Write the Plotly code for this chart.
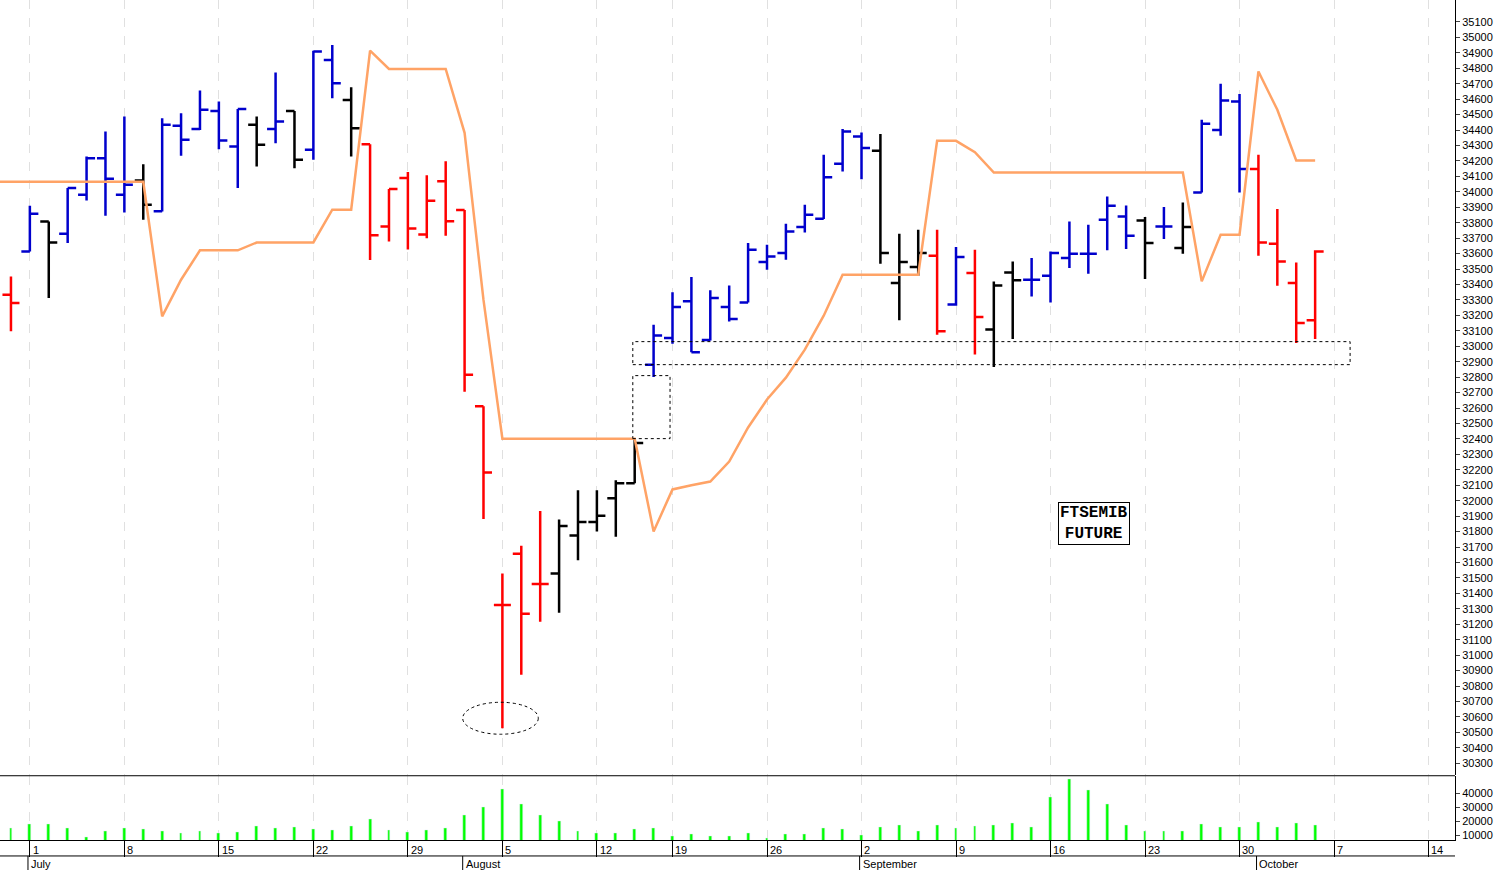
import plotly.graph_objects as go

# trading day index 0 = 28 Jun 2019 ... 69 = 4 Oct 2019 (15 Aug closed)
opens = [33334, 33614, 33808, 33729, 33981, 34218, 33981, 34073, 33875, 34427,
         34406, 34524, 34293, 34434, 34406, 34524, 34272, 34854, 34595, 34308,
         33775, 34090, 33724, 34069, 33883, 32611, 31325, 31657, 31460, 31529,
         31775, 31862, 32016, 32113, 32881, 33054, 33291, 33040, 33254, 33284,
         33545, 33604, 33772, 33826, 34181, 34358, 34266, 33410, 33513, 33586,
         33270, 33474, 33108, 33478, 33430, 33457, 33571, 33599, 33819, 33841,
         33815, 33776, 33636, 33996, 34401, 34585, 34147, 33664, 33410, 33168]
highs = [33452, 33910, 33808, 34024, 34229, 34390, 34488, 34179, 34477, 34509,
         34656, 34585, 34537, 34488, 34772, 34524, 34914, 34951, 34677, 34308,
         34018, 34128, 34108, 34198, 33883, 32611, 31529, 31708, 31933, 31878,
         32067, 32067, 32133, 32399, 33140, 33349, 33448, 33362, 33394, 33668,
         33657, 33793, 33916, 34240, 34406, 34384, 34375, 33729, 33754, 33754,
         33642, 33625, 33420, 33549, 33571, 33614, 33808, 33787, 33970, 33912,
         33837, 33901, 33931, 34466, 34699, 34634, 34240, 33888, 33543, 33621]
lows = [33097, 33614, 33312, 33668, 33944, 33845, 33866, 33819, 33873, 34233,
        34401, 34276, 34024, 34164, 34315, 34153, 34207, 34606, 34229, 33558,
        33678, 33627, 33699, 33716, 32706, 31882, 30526, 30873, 31217, 31274,
        31614, 31801, 31767, 32113, 32801, 33017, 32961, 33038, 33161, 33284,
        33496, 33560, 33737, 33824, 34132, 34082, 33534, 33168, 33457, 33075,
        33263, 32946, 32866, 33047, 33323, 33284, 33506, 33470, 33621, 33630,
        33435, 33694, 33599, 33996, 34363, 33996, 33586, 33392, 33021, 33047]
closes = [33280, 33858, 33672, 34024, 34218, 34084, 34046, 33916, 34434, 34337,
          34531, 34332, 34537, 34304, 34455, 34207, 34908, 34703, 34412, 33719,
          34018, 33763, 33942, 33809, 32816, 32182, 31325, 31268, 31460, 31836,
          31862, 31903, 32113, 32374, 33069, 33254, 32961, 33312, 33177, 33625,
          33582, 33743, 33851, 34095, 34390, 34283, 33604, 33545, 33604, 33097,
          33578, 33190, 33394, 33427, 33430, 33604, 33599, 33599, 33910, 33716,
          33668, 33776, 33772, 34440, 34591, 34147, 33672, 33549, 33151, 33614]
# bar colour code: r = red, b = blue, k = black
bar_colors = "rbkbbbbkbbbbbkbkbbkrrrrrrrrrrkkkkkbbbbbbbbbbbbkkkrbrkkbbbbbbkbkbbbrrrr"
stop_line = [34065, 34065, 34065, 34065, 34065, 34065, 34065, 34065, 33194, 33431,
             33621, 33621, 33621, 33672, 33672, 33672, 33672, 33884, 33884, 34914,
             34796, 34796, 34796, 34796, 34382, 33300, 32402, 32402, 32402, 32402,
             32402, 32402, 32402, 32402, 31801, 32073, 32100, 32124, 32254, 32474,
             32655, 32797, 32978, 33198, 33463, 33463, 33463, 33463, 33463, 34330,
             34330, 34257, 34125, 34125, 34125, 34125, 34125, 34125, 34125, 34125,
             34125, 34125, 34125, 33420, 33722, 33722, 34779, 34531, 34203, 34203]
volume = [14800, 17900, 17900, 14800, 8800, 13100, 14600, 14100, 12400, 11200,
          12400, 11200, 12200, 16500, 14800, 15500, 14100, 13600, 16500, 21500,
          13600, 11700, 13600, 14800, 24400, 29900, 43100, 32100, 24400, 19600,
          12400, 11200, 11200, 14100, 14800, 9500, 10500, 9300, 9300, 11200,
          8000, 10700, 10700, 14800, 14100, 10000, 15500, 17400, 12900, 17200,
          14800, 16500, 17200, 18400, 15500, 36900, 49600, 42400, 32100, 17200,
          12400, 12400, 12400, 17900, 15500, 15500, 19100, 15500, 18400, 17200]
day_ticks = [1, 6, 11, 16, 21, 26, 31, 35, 40, 45, 50, 55, 60, 65, 70, 75]
day_labels = ["1", "8", "15", "22", "29", "5", "12", "19", "26", "2", "9", "16", "23", "30", "7", "14"]
month_pos = [1, 24, 45, 66]
month_labels = ["July", "August", "September", "October"]

idx = list(range(len(opens)))
color_map = {"r": "#ff0000", "b": "#0000cc", "k": "#000000"}

fig = go.Figure()
for code, col in color_map.items():
    sel = [i for i in idx if bar_colors[i] == code]
    fig.add_trace(go.Ohlc(
        x=sel, open=[opens[i] for i in sel], high=[highs[i] for i in sel],
        low=[lows[i] for i in sel], close=[closes[i] for i in sel],
        increasing=dict(line=dict(color=col, width=2.5)),
        decreasing=dict(line=dict(color=col, width=2.5)),
        tickwidth=0.45, xaxis="x", yaxis="y", hoverinfo="skip"))

# the stop line runs in from the left edge at its first value
fig.add_trace(go.Scatter(x=[-0.6] + idx, y=stop_line[:1] + stop_line, mode="lines",
                         line=dict(color="#ffa366", width=2.5), xaxis="x", yaxis="y"))
fig.add_trace(go.Bar(x=idx, y=volume, marker_color="#00ff00", width=0.15,
                     xaxis="x2", yaxis="y2"))

xr = [-0.58, 76.4]
xcommon = dict(range=xr, tickvals=day_ticks, showgrid=True, gridcolor="#e0e0e0",
               griddash="dash", gridwidth=1, zeroline=False, fixedrange=True)
fig.update_layout(
    width=1503, height=870, margin=dict(l=0, r=48, t=0, b=30, autoexpand=False),
    plot_bgcolor="white", paper_bgcolor="white", showlegend=False,
    font=dict(family="Arial", size=11, color="black"),
    xaxis=dict(**xcommon, anchor="y", showticklabels=False, ticks="",
               rangeslider=dict(visible=False)),
    xaxis2=dict(**xcommon, anchor="y2", showticklabels=False, ticks="outside",
                ticklen=16, tickcolor="black", showline=True, linecolor="black"),
    yaxis=dict(domain=[0.077, 1], range=[30222, 35242], side="right",
               tickvals=list(range(30300, 35101, 100)), tickformat="d",
               ticks="outside", ticklen=4,
               showgrid=False, zeroline=False, showline=True, linecolor="black",
               tickfont=dict(size=11)),
    yaxis2=dict(domain=[0, 0.076], range=[6430, 52100], side="right",
                tickvals=[10000, 20000, 30000, 40000], tickformat="d",
                ticks="outside", ticklen=4,
                showgrid=False, zeroline=False, showline=True, linecolor="black",
                tickfont=dict(size=11)),
    bargap=0,
)

shapes = [
    dict(type="line", xref="paper", yref="paper", x0=0, x1=1, y0=0.0765, y1=0.0765,
         line=dict(color="black", width=1)),
    dict(type="line", xref="paper", yref="paper", x0=0, x1=1, y0=-0.019, y1=-0.019,
         line=dict(color="black", width=1)),
    dict(type="rect", xref="x", yref="y", x0=32.9, x1=70.85, y0=32881, y1=33030,
         line=dict(color="black", width=1, dash="dot")),
    dict(type="rect", xref="x", yref="y", x0=32.9, x1=34.87, y0=32402, y1=32810,
         line=dict(color="black", width=1, dash="dot")),
    dict(type="circle", xref="x", yref="y", x0=23.9, x1=27.9, y0=30488, y1=30695,
         line=dict(color="black", width=1, dash="dot")),
]
for m in month_pos:
    shapes.append(dict(type="line", xref="x2", yref="paper", x0=m - 0.1, x1=m - 0.1,
                       y0=-0.019, y1=-0.036, line=dict(color="black", width=1)))
fig.update_layout(shapes=shapes)

ann = []
for t, lab in zip(day_ticks, day_labels):
    ann.append(dict(x=t + 0.05, y=-0.002, xref="x2", yref="paper", text=lab,
                    showarrow=False, xanchor="left", yanchor="top", font=dict(size=11)))
for m, lab in zip(month_pos, month_labels):
    ann.append(dict(x=m - 0.05, y=-0.0195, xref="x2", yref="paper", text=lab,
                    showarrow=False, xanchor="left", yanchor="top", font=dict(size=11)))
ann.append(dict(x=57.3, y=31853, xref="x", yref="y", text="<b>FTSEMIB<br>FUTURE</b>",
                showarrow=False, bordercolor="black", borderwidth=1, borderpad=1,
                bgcolor="white", font=dict(family="Liberation Mono", size=16)))
fig.update_layout(annotations=ann)

fig.write_html("out.html", config={"displayModeBar": False},
               post_script="document.body.style.margin='0';document.body.style.overflow='hidden';")
